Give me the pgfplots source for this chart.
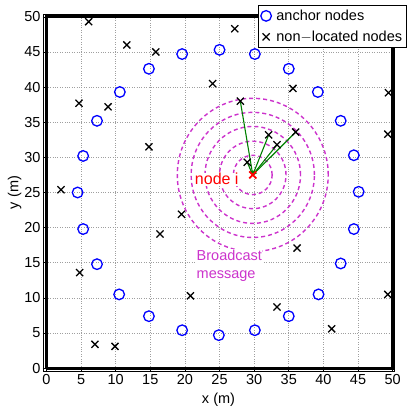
\documentclass[border=0pt]{standalone}
\usepackage{fontspec}
\setmainfont{Liberation Sans}
\usepackage{pgfplots}
\pgfplotsset{compat=1.18}
\usetikzlibrary{arrows.meta}
\definecolor{bmag}{RGB}{204,51,204}
\definecolor{dgreen}{RGB}{0,128,0}
\newcommand{\fs}{\fontsize{14.5}{17}\selectfont}
\begin{document}
\begin{tikzpicture}[font=\fs]
\begin{axis}[
 scale only axis, width=351pt, height=357pt,
 xmin=-0.5, xmax=50.2, ymin=-0.4, ymax=50.4,
 xtick={0,5,...,50}, ytick={0,5,...,50},
 /pgf/number format/assume math mode=true,
 tick label style={font=\fs},
 label style={font=\fs},
 xlabel={x (m)}, ylabel={y (m)},
 xlabel style={yshift=-1pt}, ylabel style={yshift=-4pt},
 xticklabel style={yshift=0pt}, yticklabel style={xshift=1pt},
 grid=major, grid style={dotted, gray!75, line width=0.6pt},
 major tick length=3pt, tick style={black, line width=0.6pt},
 axis line style={line width=0.8pt},
 legend cell align=left,
 legend style={at={(1,1)}, anchor=north east, xshift=13pt, yshift=9pt,
   font=\fs, draw=black, line width=0.8pt, fill=white,
   inner sep=2.5pt, row sep=5pt, column sep=3pt},
]
% anchor nodes
\addplot[only marks, mark=o, mark size=5.3pt, blue, line width=1.3pt] coordinates {
(25,45.3)(30.1,44.7)(35,42.6)(39.2,39.3)(42.5,35.2)(44.4,30.3)(45.1,25.1)(44.4,19.8)
(42.5,14.9)(39.3,10.5)(35,7.4)(30.1,5.4)(24.9,4.7)(19.6,5.4)(14.8,7.4)(10.5,10.5)
(7.3,14.8)(5.3,19.8)(4.5,25)(5.3,30.2)(7.3,35.2)(10.6,39.3)(14.8,42.6)(19.6,44.7)};
\addlegendentry{anchor nodes}
% non-located nodes
\addplot[only marks, mark=x, mark size=5pt, black, line width=1.3pt] coordinates {
(6.1,49.3)(11.6,46.0)(15.8,45.0)(27.2,48.3)(4.7,37.7)(8.9,37.2)(24.0,40.5)(35.6,39.8)
(49.4,39.2)(28.0,38.0)(14.8,31.5)(32.1,33.2)(33.3,31.8)(36.0,33.6)(49.3,33.3)(29.0,29.3)
(2.1,25.4)(19.5,21.9)(16.4,19.1)(36.2,17.1)(4.8,13.6)(20.8,10.3)(49.3,10.5)(33.3,8.7)
(41.2,5.6)(7.0,3.4)(9.9,3.1)};
\addlegendentry{non$-$located nodes}
% thick frame
\addplot[black, line width=3.2pt, forget plot] coordinates {(0,0)(50,0)(50,50)(0,50)(0,0)};
% broadcast circles
\pgfplotsinvokeforeach{2.8,4.8,6.9,8.9,10.9}{
  \draw[bmag, line width=1.4pt, dash pattern=on 4pt off 3pt] (axis cs:29.8,27.5) ellipse [x radius=#1, y radius=#1];
}
% labels with white background
\node[red, fill=white, inner sep=0.5pt, font=\fontsize{16}{18}\selectfont] at (axis cs:24.6,26.9) {node i};
\node[bmag, fill=white, inner sep=0.5pt, align=left, anchor=west, font=\fontsize{14.5}{18}\selectfont] at (axis cs:21.6,14.6) {Broadcast\\message};
% links
\addplot[dgreen, line width=1.1pt, forget plot, -{Stealth[length=4pt,width=4pt]}] coordinates {(28.0,38.0)(29.8,27.5)};
\addplot[dgreen, line width=1.1pt, forget plot, -{Stealth[length=4pt,width=4pt]}] coordinates {(32.1,33.2)(29.8,27.5)};
\addplot[dgreen, line width=1.1pt, forget plot, -{Stealth[length=4pt,width=4pt]}] coordinates {(33.3,31.8)(29.8,27.5)};
\addplot[dgreen, line width=1.1pt, forget plot, -{Stealth[length=4pt,width=4pt]}] coordinates {(36.0,33.6)(29.8,27.5)};
\addplot[dgreen, line width=1.1pt, forget plot, -{Stealth[length=4pt,width=4pt]}] coordinates {(29.0,29.3)(29.8,27.5)};
% node i
\addplot[only marks, mark=x, mark size=5pt, red, line width=1.7pt, forget plot] coordinates {(29.8,27.5)};
\end{axis}
\path ([xshift=-43pt,yshift=-41pt]current axis.south west) rectangle ([xshift=14pt,yshift=14pt]current axis.north east);
\end{tikzpicture}
\end{document}
